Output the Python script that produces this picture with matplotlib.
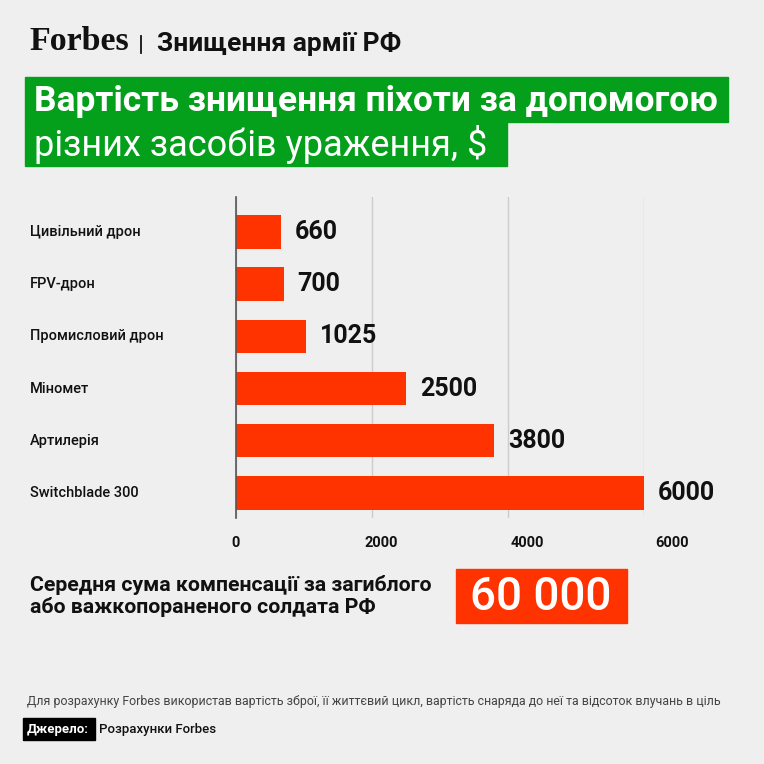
import matplotlib.pyplot as plt
import matplotlib.patches as patches
import matplotlib.transforms as mtrans

# data
categories = ["Цивільний дрон", "FPV-дрон", "Промисловий дрон", "Міномет", "Артилерія", "Switchblade 300"]
values = [660, 700, 1025, 2500, 3800, 6000]
xticks = [0, 2000, 4000, 6000]
compensation = "60 000"

BG = "#efefef"
RED = "#ff3300"
GREEN = "#04a01b"
FONT = ["Roboto", "DejaVu Sans"]

W = H = 764
fig = plt.figure(figsize=(W / 100, H / 100), dpi=100, facecolor=BG)


def fx(px):
    return px / W


def fy(py):
    return 1 - py / H


def box(x0, y0, x1, y1, color):
    fig.patches.append(patches.Rectangle((fx(x0), fy(y1)), fx(x1 - x0), (y1 - y0) / H,
                                         transform=fig.transFigure, color=color, zorder=0))


# header
fig.text(fx(29), fy(42), "Forbes", family=["Liberation Serif", "DejaVu Serif"], weight="bold",
         fontsize=24.5, va="center", ha="left", color="#111111")
fig.add_artist(plt.Line2D([fx(141), fx(141)], [fy(36), fy(53)], color="#111111", lw=1.3))
fig.text(fx(157), fy(44), "Знищення армії РФ", family=FONT, weight="bold", fontsize=19,
         va="center", ha="left", color="#111111")

# green title boxes
box(25, 77, 728, 122, GREEN)
box(25, 122, 507, 166, GREEN)
fig.text(fx(34), fy(101), "Вартість знищення піхоти за допомогою", family=FONT, weight="bold",
         fontsize=25.5, color="white", va="center", ha="left")
fig.text(fx(34), fy(144), "різних засобів ураження, $", family=FONT, weight="normal",
         fontsize=26, color="white", va="center", ha="left")

# bar chart
ax = fig.add_axes([fx(236), fy(518), fx(644 - 236), (518 - 197) / H])
ax.set_facecolor(BG)
pos = list(range(len(categories)))
ax.barh(pos, values, height=0.64, color=RED, zorder=2)
ax.set_xlim(0, 6000)
ax.set_ylim(len(categories) - 0.52, -0.67)
ax.set_xticks(xticks)
ax.set_xticklabels([str(t) for t in xticks], family=FONT, weight="bold", fontsize=10.5, color="#111111")
ax.tick_params(axis="x", length=0, pad=13)
ax.set_yticks([])
# tick labels in the reference sit a bit to the right of their gridlines
for lab, t in zip(ax.get_xticklabels(), xticks):
    lab.set_transform(lab.get_transform() + mtrans.ScaledTranslation(t * 9.5 / 2000 / 100, 0, fig.dpi_scale_trans))
for s in ["top", "right", "bottom"]:
    ax.spines[s].set_visible(False)
ax.spines["left"].set_color("#555555")
ax.spines["left"].set_linewidth(1.2)
ax.spines["left"].set_zorder(3)
ax.grid(axis="x", color="#cccccc", lw=1, zorder=1)
ax.set_axisbelow(True)

blend = mtrans.blended_transform_factory(fig.transFigure, ax.transData)
for i, (c, v) in enumerate(zip(categories, values)):
    ax.annotate(str(v), (v, i), xytext=(10, 0), textcoords="offset points", va="center", ha="left",
                family=FONT, weight="bold", fontsize=18, color="#111111", annotation_clip=False)
    fig.text(fx(30), i, c, family=FONT, weight="medium", fontsize=10.5, color="#111111",
             va="center", ha="left", transform=blend)

# compensation block
fig.text(fx(30), fy(585), "Середня сума компенсації за загиблого", family=FONT, weight="bold",
         fontsize=15.3, color="#111111", va="center", ha="left")
fig.text(fx(30), fy(607), "або важкопораненого солдата РФ", family=FONT, weight="bold",
         fontsize=15.3, color="#111111", va="center", ha="left")
box(456, 569, 627, 623, RED)
fig.text(fx(541), fy(597), compensation, family=FONT, weight="medium", fontsize=33,
         color="white", va="center", ha="center")

# footer
fig.text(fx(27), fy(701), "Для розрахунку Forbes використав вартість зброї, її життєвий цикл, "
         "вартість снаряда до неї та відсоток влучань в ціль", family=FONT, fontsize=8.95,
         color="#444444", va="center", ha="left")
box(23, 718, 95, 740, "#000000")
fig.text(fx(27), fy(729), "Джерело:", family=FONT, weight="bold", fontsize=9.5, color="white",
         va="center", ha="left")
fig.text(fx(99), fy(729), "Розрахунки Forbes", family=FONT, weight="medium", fontsize=9.5,
         color="#111111", va="center", ha="left")

fig.savefig("out.png", dpi=100, facecolor=BG)
